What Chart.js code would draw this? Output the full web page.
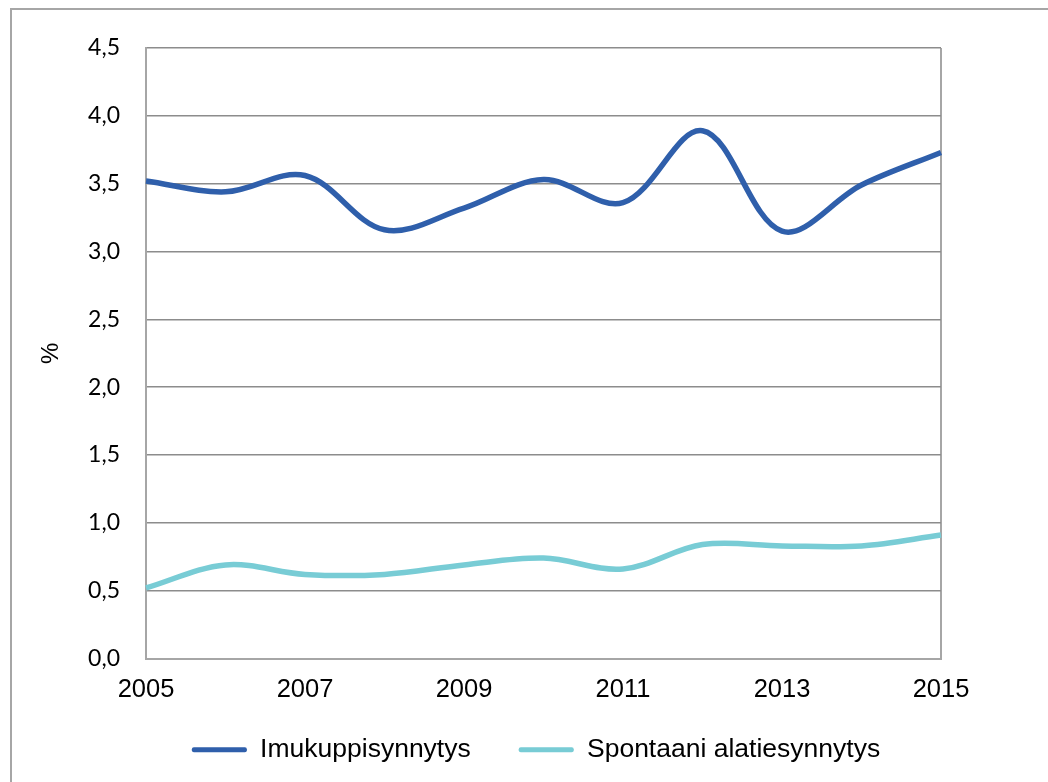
<!DOCTYPE html>
<html>
<head>
<meta charset="utf-8">
<script src="https://cdn.jsdelivr.net/npm/chart.js@4"></script>
<style>
  html, body { margin: 0; padding: 0; background: #fff; overflow: hidden; }
  #frame {
    position: absolute; left: 10px; top: 8px;
    width: 1100px; height: 850px;
    border: 2px solid #a6a6a6; box-sizing: border-box;
  }
  #wrap { position: absolute; left: 0; top: 0; width: 1048px; height: 782px; }
</style>
</head>
<body>
<div id="frame"></div>
<div id="wrap"><canvas id="chart" width="1048" height="782"></canvas></div>
<script>
// data
const years = ['2005', '2006', '2007', '2008', '2009', '2010', '2011', '2012', '2013', '2014', '2015'];
const imukuppi = [3.52, 3.44, 3.56, 3.16, 3.32, 3.53, 3.36, 3.89, 3.15, 3.49, 3.73];
const spontaani = [0.52, 0.69, 0.62, 0.62, 0.69, 0.74, 0.66, 0.84, 0.83, 0.83, 0.91];
const yTicks = [0, 0.5, 1.0, 1.5, 2.0, 2.5, 3.0, 3.5, 4.0, 4.5];

const gridGrey = '#8c8c8c';
const borderGrey = '#a6a6a6';

document.addEventListener('DOMContentLoaded', function () {
    const ctx = document.getElementById('chart').getContext('2d');

    new Chart(ctx, {
        type: 'line',
        data: {
            labels: years,
            datasets: [{
                label: 'Imukuppisynnytys',
                data: imukuppi,
                borderColor: '#2f5fab',
                backgroundColor: '#2f5fab',
                borderWidth: 5.5,
                pointRadius: 0,
                tension: 0.35
            }, {
                label: 'Spontaani alatiesynnytys',
                data: spontaani,
                borderColor: '#78ccd5',
                backgroundColor: '#78ccd5',
                borderWidth: 5.5,
                pointRadius: 0,
                tension: 0.35
            }]
        },
        options: {
            responsive: false,
            animation: false,
            layout: {
                padding: { left: 24, right: 0, top: 48, bottom: 9 }
            },
            plugins: {
                tooltip: { enabled: false },
                legend: {
                    position: 'bottom',
                    labels: {
                        color: '#000',
                        boxWidth: 55,
                        boxHeight: 5,
                        padding: 48,
                        font: { family: 'Liberation Sans', size: 26.5 },
                        generateLabels: function (chart) {
                            return chart.data.datasets.map(function (ds, i) {
                                return {
                                    text: ds.label,
                                    fillStyle: ds.borderColor,
                                    strokeStyle: ds.borderColor,
                                    lineWidth: 0,
                                    borderRadius: 2,
                                    datasetIndex: i
                                };
                            });
                        }
                    }
                }
            },
            scales: {
                x: {
                    offset: false,
                    afterFit: function (scale) { scale.height = 30; },
                    grid: {
                        drawTicks: false,
                        lineWidth: 2,
                        color: function (c) {
                            return (c.index === 0 || c.index === years.length - 1) ? borderGrey : 'rgba(0,0,0,0)';
                        }
                    },
                    border: { display: true, color: borderGrey, width: 2 },
                    ticks: {
                        autoSkip: false,
                        maxRotation: 0,
                        // mirror avoids clipping the labels to the short axis box
                        mirror: true,
                        padding: -47,
                        color: '#000',
                        font: { family: 'Liberation Sans', size: 25.5 },
                        callback: function (v, i) { return i % 2 === 0 ? years[i] : ''; }
                    }
                },
                y: {
                    min: 0,
                    max: 4.5,
                    afterFit: function (scale) { scale.width = 122; },
                    afterBuildTicks: function (scale) {
                        scale.ticks = yTicks.map(function (v) { return { value: v }; });
                    },
                    grid: { drawTicks: false, color: gridGrey, lineWidth: 1.5 },
                    border: { display: true, color: borderGrey, width: 2 },
                    title: {
                        display: true,
                        text: '%',
                        color: '#000',
                        padding: { top: 13 },
                        font: { family: 'Liberation Sans', size: 24 }
                    },
                    ticks: {
                        padding: 26,
                        color: '#000',
                        font: { family: 'Lato', size: 23 },
                        callback: function (v) { return v.toFixed(1).replace('.', ','); }
                    }
                },
                // empty right-hand space of the plot frame
                yRight: {
                    position: 'right',
                    min: 0,
                    max: 4.5,
                    afterFit: function (scale) { scale.width = 107; },
                    grid: { display: false },
                    border: { display: false },
                    ticks: { display: false }
                }
            }
        }
    });
});
</script>
</body>
</html>
